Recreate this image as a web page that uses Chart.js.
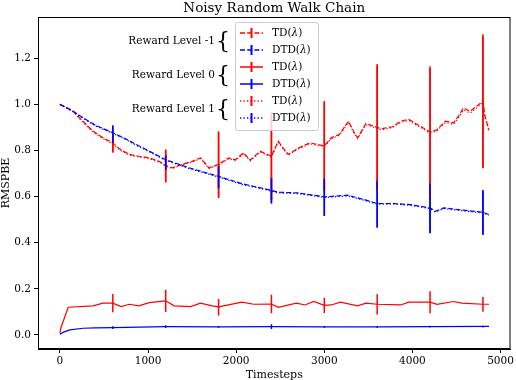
<!DOCTYPE html>
<html>
<head>
<meta charset="utf-8">
<script src="https://cdn.jsdelivr.net/npm/chart.js@4"></script>
<style>
  html, body { margin: 0; padding: 0; background: #fff; }
</style>
</head>
<body>
<canvas id="chart" width="516" height="380"></canvas>
<script>
// top curves (reward level -1 dashed, reward level 1 dotted)
const tdTopX = [0, 150, 262, 375, 488, 600, 675, 788, 900, 1013, 1126, 1200, 1276, 1389, 1500, 1595, 1690, 1800, 1914, 1990, 2083, 2159, 2272, 2400, 2477, 2534, 2590, 2703, 2834, 3000, 3078, 3172, 3274, 3341, 3378, 3472, 3600, 3641, 3773, 3866, 3960, 4054, 4200, 4279, 4373, 4467, 4524, 4580, 4655, 4800, 4823, 4870];
const tdNeg1 = [1.0, 0.97, 0.927, 0.884, 0.855, 0.833, 0.807, 0.783, 0.775, 0.768, 0.753, 0.735, 0.725, 0.74, 0.753, 0.768, 0.725, 0.74, 0.768, 0.76, 0.79, 0.758, 0.797, 0.775, 0.84, 0.81, 0.783, 0.81, 0.833, 0.82, 0.855, 0.87, 0.927, 0.877, 0.855, 0.917, 0.9, 0.894, 0.903, 0.927, 0.935, 0.913, 0.88, 0.89, 0.927, 0.92, 0.95, 0.985, 0.97, 1.014, 0.95, 0.887];
const tdPos1 = [1.0, 0.968, 0.922, 0.88, 0.851, 0.829, 0.803, 0.78, 0.772, 0.764, 0.75, 0.732, 0.722, 0.738, 0.75, 0.765, 0.722, 0.737, 0.764, 0.757, 0.786, 0.755, 0.793, 0.772, 0.836, 0.806, 0.78, 0.806, 0.829, 0.817, 0.851, 0.866, 0.922, 0.873, 0.852, 0.912, 0.896, 0.89, 0.899, 0.922, 0.93, 0.909, 0.876, 0.886, 0.921, 0.914, 0.943, 0.976, 0.962, 1.008, 0.945, 0.884];

const dtdTopX = [0, 130, 262, 400, 600, 750, 864, 1000, 1200, 1464, 1800, 2064, 2400, 2477, 2703, 3000, 3266, 3454, 3600, 3791, 3979, 4200, 4260, 4355, 4580, 4800, 4870];
const dtdNeg1 = [1.0, 0.975, 0.942, 0.91, 0.877, 0.85, 0.826, 0.8, 0.76, 0.725, 0.688, 0.656, 0.627, 0.619, 0.616, 0.599, 0.606, 0.587, 0.57, 0.57, 0.565, 0.551, 0.536, 0.551, 0.541, 0.532, 0.522];
const dtdPos1 = [1.0, 0.973, 0.94, 0.907, 0.874, 0.847, 0.823, 0.797, 0.757, 0.722, 0.685, 0.653, 0.624, 0.616, 0.613, 0.596, 0.603, 0.584, 0.567, 0.567, 0.562, 0.548, 0.533, 0.548, 0.538, 0.529, 0.519];

// bottom curves (reward level 0, solid)
const td0X = [0, 10, 94, 375, 488, 600, 694, 788, 893, 1013, 1200, 1295, 1483, 1595, 1726, 1800, 2064, 2200, 2400, 2477, 2684, 2782, 2879, 3000, 3078, 3183, 3378, 3472, 3600, 3866, 3960, 4200, 4279, 4467, 4560, 4800, 4870];
const td0 = [0.007, 0.03, 0.12, 0.126, 0.138, 0.138, 0.123, 0.133, 0.126, 0.14, 0.148, 0.126, 0.123, 0.138, 0.126, 0.122, 0.142, 0.133, 0.134, 0.12, 0.138, 0.13, 0.145, 0.128, 0.13, 0.142, 0.126, 0.138, 0.133, 0.13, 0.142, 0.142, 0.133, 0.145, 0.138, 0.133, 0.133];
const dtd0X = [0, 40, 113, 262, 400, 600, 900, 1200, 1800, 2400, 3000, 3600, 4200, 4870];
const dtd0 = [0.003, 0.012, 0.022, 0.029, 0.031, 0.032, 0.034, 0.036, 0.035, 0.036, 0.035, 0.035, 0.036, 0.037];

// error bars: centres and half widths
const errX = [600, 1200, 1800, 2400, 3000, 3600, 4200, 4800];
const tdNeg1C = [0.831, 0.733, 0.739, 0.775, 0.82, 0.9, 0.88, 1.014];
const tdNeg1E = [0.04, 0.071, 0.145, 0.19, 0.195, 0.275, 0.285, 0.29];
const tdPos1C = [0.829, 0.732, 0.737, 0.772, 0.817, 0.896, 0.876, 1.008];
const tdPos1E = [0.038, 0.07, 0.14, 0.185, 0.19, 0.27, 0.28, 0.285];
const dtdNeg1C = [0.871, 0.749, 0.685, 0.627, 0.599, 0.57, 0.551, 0.532];
const dtdNeg1E = [0.038, 0.032, 0.05, 0.056, 0.083, 0.105, 0.11, 0.097];
const dtdPos1C = [0.868, 0.747, 0.683, 0.624, 0.596, 0.567, 0.548, 0.529];
const dtdPos1E = [0.036, 0.03, 0.048, 0.054, 0.08, 0.1, 0.106, 0.094];
const td0C = [0.138, 0.148, 0.12, 0.134, 0.128, 0.133, 0.142, 0.133];
const td0E = [0.04, 0.048, 0.036, 0.04, 0.033, 0.044, 0.048, 0.032];
const dtd0C = [0.032, 0.036, 0.035, 0.036, 0.035, 0.035, 0.036, 0.036];
const dtd0E = [0.006, 0.006, 0.004, 0.01, 0.004, 0.004, 0.004, 0.004];

const yTicks = [0, 0.2, 0.4, 0.6, 0.8, 1.0, 1.2];
const xTicks = [0, 1000, 2000, 3000, 4000, 5000];

const RED = '#ff0000';
const BLUE = '#0000ff';
const SERIF = '"DejaVu Serif", serif';

function pts(xs, ys) {
  return xs.map((x, i) => ({ x: x, y: ys[i] }));
}

// vertical segments, separated by gaps
function errPts(cs, es) {
  const out = [];
  errX.forEach((x, i) => {
    out.push({ x: x, y: cs[i] - es[i] });
    out.push({ x: x, y: cs[i] + es[i] });
    out.push({ x: x, y: null });
  });
  return out;
}

function lineSet(data, color, dash, order) {
  return {
    data: data, borderColor: color, borderWidth: 1.2, borderDash: dash,
    pointRadius: 0, fill: false, tension: 0, order: order,
  };
}
function barSet(data, color, order) {
  return {
    data: data, borderColor: color, borderWidth: 1.5, pointRadius: 0,
    fill: false, spanGaps: false, order: order,
  };
}

const DASH = [5, 2.2];
const DOT = [1.3, 2.2];

// legend rows, same order as in the picture
const legendRows = [
  { label: 'TD', color: RED, dash: DASH },
  { label: 'DTD', color: BLUE, dash: DASH },
  { label: 'TD', color: RED, dash: [] },
  { label: 'DTD', color: BLUE, dash: [] },
  { label: 'TD', color: RED, dash: DOT },
  { label: 'DTD', color: BLUE, dash: DOT },
];
const groupLabels = ['Reward Level -1', 'Reward Level 0', 'Reward Level 1'];

const decor = {
  id: 'decor',
  afterDatasetsDraw(chart) {
    const ctx = chart.ctx;
    const a = chart.chartArea;
    ctx.save();
    // box round the plot
    ctx.strokeStyle = '#000';
    ctx.lineWidth = 1;
    ctx.strokeRect(a.left + 0.5, a.top + 0.5, a.right - a.left - 1, a.bottom - a.top - 1);

    // legend
    const lx = 235, ly = 22, lw = 83, lh = 108;
    ctx.fillStyle = 'rgba(255,255,255,0.8)';
    ctx.strokeStyle = '#cccccc';
    ctx.beginPath();
    ctx.roundRect(lx + 0.5, ly + 0.5, lw, lh, 2);
    ctx.fill();
    ctx.stroke();
    legendRows.forEach((r, i) => {
      const y = 33 + i * 17;
      ctx.strokeStyle = r.color;
      ctx.lineWidth = 1.5;
      ctx.setLineDash(r.dash);
      ctx.beginPath();
      ctx.moveTo(240, y);
      ctx.lineTo(263, y);
      ctx.stroke();
      ctx.setLineDash([]);
      ctx.lineWidth = 2;
      ctx.beginPath();
      ctx.moveTo(251.5, y - 5);
      ctx.lineTo(251.5, y + 5);
      ctx.stroke();
      ctx.fillStyle = '#000';
      ctx.textBaseline = 'middle';
      ctx.textAlign = 'left';
      ctx.font = '10.5px ' + SERIF;
      let tx = 272;
      const s1 = r.label + '(';
      ctx.fillText(s1, tx, y);
      tx += ctx.measureText(s1).width;
      ctx.font = 'italic 10.5px ' + SERIF;
      ctx.fillText('λ', tx, y);
      tx += ctx.measureText('λ').width;
      ctx.font = '10.5px ' + SERIF;
      ctx.fillText(')', tx, y);
    });

    // group labels with braces
    groupLabels.forEach((t, i) => {
      const y = 41 + i * 34;
      ctx.fillStyle = '#000';
      ctx.textAlign = 'right';
      ctx.textBaseline = 'middle';
      ctx.font = '10.5px ' + SERIF;
      ctx.fillText(t, 215, y);
      ctx.textAlign = 'left';
      ctx.font = '22px ' + SERIF;
      ctx.fillText('{', 216, y + 1);
    });

    // title and axis titles
    ctx.textAlign = 'center';
    ctx.textBaseline = 'middle';
    ctx.font = '13.5px ' + SERIF;
    ctx.fillText('Noisy Random Walk Chain', (a.left + a.right) / 2, 8);
    ctx.font = '11px ' + SERIF;
    ctx.fillText('Timesteps', (a.left + a.right) / 2, 375);
    ctx.translate(6, 183);
    ctx.rotate(-Math.PI / 2);
    ctx.fillText('RMSPBE', 0, 0);
    ctx.restore();
  }
};

const chart = new Chart(document.getElementById('chart').getContext('2d'), {
  type: 'line',
  data: {
    datasets: [
      lineSet(pts(tdTopX, tdNeg1), RED, DASH, 12),
      barSet(errPts(tdNeg1C, tdNeg1E), RED, 11),
      lineSet(pts(dtdTopX, dtdNeg1), BLUE, DASH, 10),
      barSet(errPts(dtdNeg1C, dtdNeg1E), BLUE, 9),
      lineSet(pts(td0X, td0), RED, [], 8),
      barSet(errPts(td0C, td0E), RED, 7),
      lineSet(pts(dtd0X, dtd0), BLUE, [], 6),
      barSet(errPts(dtd0C, dtd0E), BLUE, 5),
      lineSet(pts(tdTopX, tdPos1), RED, DOT, 4),
      barSet(errPts(tdPos1C, tdPos1E), RED, 3),
      lineSet(pts(dtdTopX, dtdPos1), BLUE, DOT, 2),
      barSet(errPts(dtdPos1C, dtdPos1E), BLUE, 1),
    ]
  },
  options: {
    responsive: false,
    animation: false,
    events: [],
    layout: { padding: { top: 17, right: 4, left: 0, bottom: 0 } },
    plugins: { legend: { display: false }, tooltip: { enabled: false } },
    scales: {
      x: {
        type: 'linear',
        min: -249, max: 5113,
        afterFit: s => { s.height = 31; },
        afterBuildTicks: s => { s.ticks = xTicks.map(v => ({ value: v })); },
        grid: { drawOnChartArea: false, drawTicks: true, tickLength: 4, color: '#000' },
        border: { display: true, color: '#000', width: 1 },
        ticks: {
          color: '#000', padding: 2, maxRotation: 0,
          font: { family: SERIF, size: 10.5 },
          callback: v => String(v),
        },
      },
      y: {
        type: 'linear',
        min: -0.061, max: 1.379,
        afterFit: s => { s.width = 38; },
        afterBuildTicks: s => { s.ticks = yTicks.map(v => ({ value: v })); },
        grid: { drawOnChartArea: false, drawTicks: true, tickLength: 4, color: '#000' },
        border: { display: true, color: '#000', width: 1 },
        ticks: {
          color: '#000', padding: 3,
          font: { family: SERIF, size: 10.5 },
          callback: v => v.toFixed(1),
        },
      },
    },
  },
  plugins: [decor],
});
</script>
</body>
</html>
